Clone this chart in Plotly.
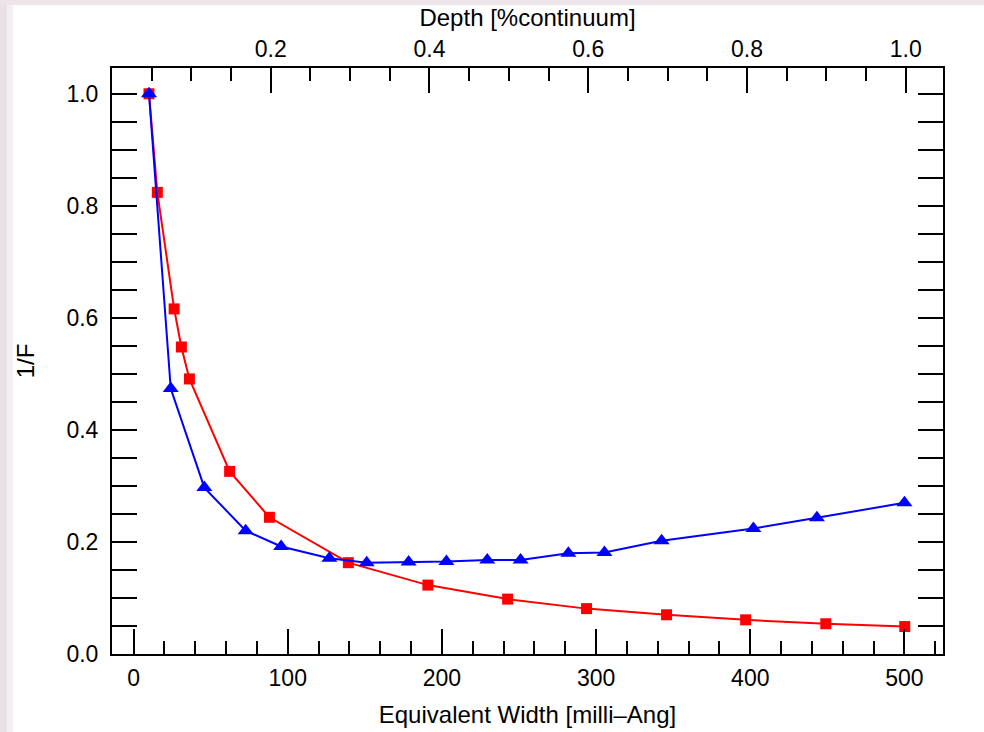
import plotly.graph_objects as go

# Data
red_x = [10, 15.4, 26.3, 31, 36.2, 62.3, 88.1, 139.3, 190.9, 242.6, 293.8, 345.7, 397, 449, 500.2]
red_y = [1.0, 0.824, 0.616, 0.548, 0.491, 0.326, 0.244, 0.163, 0.123, 0.098, 0.081, 0.070, 0.061, 0.054, 0.049]

blue_x = [10, 24.1, 45.9, 72.7, 95.7, 127, 151.2, 178.4, 202.9, 229.4, 251, 282, 305.4, 342.5, 402, 443.2, 500]
blue_y = [1.0, 0.474, 0.297, 0.220, 0.192, 0.171, 0.163, 0.164, 0.165, 0.168, 0.168, 0.180, 0.181, 0.202, 0.224, 0.243, 0.270]

x_ticks = [0, 100, 200, 300, 400, 500]
x_minor = [20 * i for i in range(0, 27)]
y_ticks = [0.0, 0.2, 0.4, 0.6, 0.8, 1.0]
y_minor = [round(0.05 * i, 2) for i in range(0, 21)]
depth_ticks = [0.2, 0.4, 0.6, 0.8, 1.0]
depth_minor = [round(0.05 * i, 2) for i in range(1, 21)]

FONT = "Liberation Sans, Arial, Helvetica, sans-serif"
TICK_FS = 23
TITLE_FS = 24

fig = go.Figure()
fig.add_trace(go.Scatter(x=red_x, y=red_y, mode="lines+markers",
                         line=dict(color="#ff0000", width=2),
                         marker=dict(symbol="square", size=11, color="#ff0000"),
                         showlegend=False))
fig.add_trace(go.Scatter(x=blue_x, y=blue_y, mode="lines+markers",
                         line=dict(color="#0000ff", width=2),
                         marker=dict(symbol="triangle-up", size=14, color="#0000ff"),
                         showlegend=False))
# helper (invisible) trace so the top Depth axis is drawn
fig.add_trace(go.Scatter(x=depth_ticks, y=[None] * len(depth_ticks), xaxis="x2", yaxis="y",
                         mode="markers", showlegend=False, hoverinfo="skip"))

tick_style = dict(ticks="inside", ticklen=25, tickwidth=2, tickcolor="black",
                  showline=True, linewidth=2, linecolor="black",
                  showgrid=False, zeroline=False, tickfont=dict(size=TICK_FS, color="black"))
minor_style = dict(ticks="inside", ticklen=13, tickwidth=2, tickcolor="black", showgrid=False)

fig.update_layout(
    width=984, height=732,
    margin=dict(l=112, r=41, t=68, b=78, autoexpand=False),
    paper_bgcolor="white", plot_bgcolor="white",
    font=dict(family=FONT, size=TICK_FS, color="black"),
    xaxis=dict(
        range=[-14, 525], tickmode="array", tickvals=x_ticks, mirror=False,
        minor=dict(tickmode="array", tickvals=x_minor, **minor_style),
        title=dict(text="Equivalent Width [milli\u2013Ang]", standoff=17, font=dict(size=TITLE_FS)),
        ticklabelstandoff=2,
        **tick_style,
    ),
    xaxis2=dict(
        overlaying="x", side="top", anchor="y",
        range=[0, 1.047], tickmode="array", tickvals=depth_ticks, tickformat=".1f",
        minor=dict(tickmode="array", tickvals=depth_minor, **minor_style),
        title=dict(text="Depth [%continuum]", standoff=2, font=dict(size=TITLE_FS)),
        ticklabelstandoff=0,
        **tick_style,
    ),
    yaxis=dict(
        range=[0, 1.046], tickmode="array", tickvals=y_ticks, tickformat=".1f",
        mirror="allticks",
        minor=dict(tickmode="array", tickvals=y_minor, **minor_style),
        title=dict(text="1/F", standoff=25, font=dict(size=TITLE_FS)),
        ticklabelstandoff=7,
        **tick_style,
    ),
    shapes=[
        dict(type="rect", xref="paper", yref="paper", layer="below",
             x0=-112 / 831, x1=-105 / 831, y0=-78 / 586, y1=654 / 586,
             fillcolor="#e9e1e6", line=dict(width=0)),
        dict(type="rect", xref="paper", yref="paper", layer="below",
             x0=-105 / 831, x1=-99 / 831, y0=-78 / 586, y1=654 / 586,
             fillcolor="#f4eff2", line=dict(width=0)),
        dict(type="rect", xref="paper", yref="paper", layer="below",
             x0=-112 / 831, x1=872 / 831, y0=649 / 586, y1=654 / 586,
             fillcolor="#ece4e8", line=dict(width=0)),
    ],
)

fig.write_html("out.html", config={"displayModeBar": False},
               post_script="document.body.style.margin='0px';")
